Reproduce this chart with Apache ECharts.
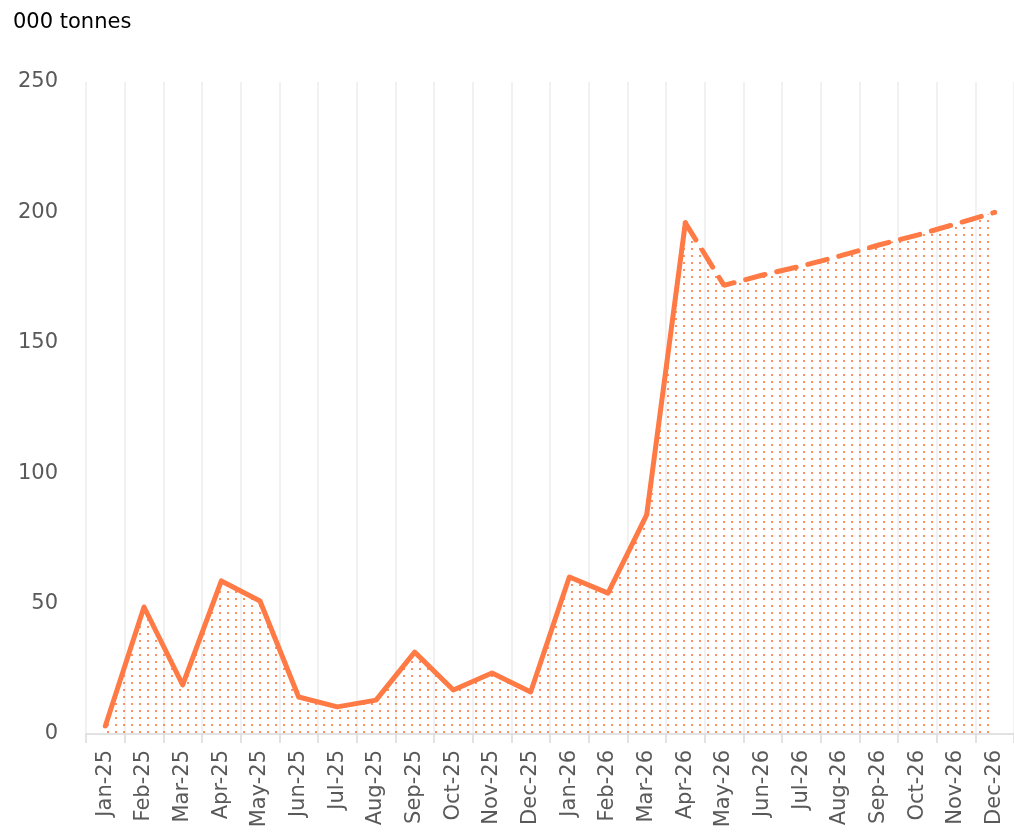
<!DOCTYPE html>
<html>
<head>
<meta charset="utf-8">
<script src="https://cdn.jsdelivr.net/npm/echarts@6/dist/echarts.min.js"></script>
<style>
html,body{margin:0;padding:0;background:#fff;}
#main{width:1014px;height:837px;}
</style>
</head>
<body>
<div id="main"></div>
<script>
var categories = ['Jan-25','Feb-25','Mar-25','Apr-25','May-25','Jun-25','Jul-25','Aug-25','Sep-25','Oct-25','Nov-25','Dec-25',
                  'Jan-26','Feb-26','Mar-26','Apr-26','May-26','Jun-26','Jul-26','Aug-26','Sep-26','Oct-26','Nov-26','Dec-26'];
var actualValues = [3.1, 48.7, 18.8, 58.7, 51, 14.2, 10.4, 13, 31.4, 16.9, 23.4, 16.1,
                    60.2, 54, 84, 196, null, null, null, null, null, null, null, null];
var forecastValues = [null, null, null, null, null, null, null, null, null, null, null, null,
                      null, null, null, 196, 172, 176, 179.4, 183.3, 187.5, 191.3, 195.6, 200];
var yTicks = [0, 50, 100, 150, 200, 250];

var combined = categories.map(function (c, i) {
  return actualValues[i] != null ? actualValues[i] : forecastValues[i];
});

var lineColor = '#FF7A45';
var fontFam = '"DejaVu Sans", "Liberation Sans", sans-serif';

// dotted fill pattern
var tile = document.createElement('canvas');
tile.width = 8; tile.height = 7;
var tctx = tile.getContext('2d');
tctx.fillStyle = 'rgba(255,122,69,0.85)';
tctx.fillRect(3, 3, 2, 2);

var chart = echarts.init(document.getElementById('main'));
chart.setOption({
  animation: false,
  backgroundColor: '#fff',
  title: {
    text: '000 tonnes',
    left: 8,
    top: 7,
    textStyle: { fontFamily: fontFam, fontSize: 21, fontWeight: 'normal', color: '#000' }
  },
  grid: { left: 86, right: 0, top: 82, bottom: 103, containLabel: false },
  xAxis: {
    type: 'category',
    data: categories,
    boundaryGap: true,
    axisLine: { show: true, lineStyle: { color: '#d9d9d9', width: 1.5 } },
    axisTick: { show: true, length: 9, lineStyle: { color: '#d9d9d9', width: 1.5 } },
    splitLine: { show: true, lineStyle: { color: '#ececec', width: 1.5 } },
    axisLabel: {
      rotate: 90,
      margin: 16,
      color: '#595959',
      fontSize: 21,
      fontFamily: fontFam,
      interval: 0
    }
  },
  yAxis: {
    type: 'value',
    min: 0,
    max: 250,
    interval: 50,
    axisLine: { show: false },
    axisTick: { show: false },
    splitLine: { show: false },
    axisLabel: {
      margin: 28,
      color: '#595959',
      fontSize: 21,
      fontFamily: fontFam,
      formatter: function (v) { return yTicks.indexOf(v) >= 0 ? String(v) : ''; }
    }
  },
  series: [
    {
      type: 'line',
      data: combined,
      symbol: 'none',
      lineStyle: { width: 0, opacity: 0 },
      areaStyle: { color: { image: tile, repeat: 'repeat' }, opacity: 1 },
      z: 1
    },
    {
      type: 'line',
      data: actualValues,
      symbol: 'none',
      lineStyle: { color: lineColor, width: 5, cap: 'round', join: 'round' },
      z: 3
    },
    {
      type: 'line',
      data: forecastValues,
      symbol: 'none',
      lineStyle: { color: lineColor, width: 5, type: [20, 12], cap: 'round' },
      z: 3
    }
  ]
});
</script>
</body>
</html>
